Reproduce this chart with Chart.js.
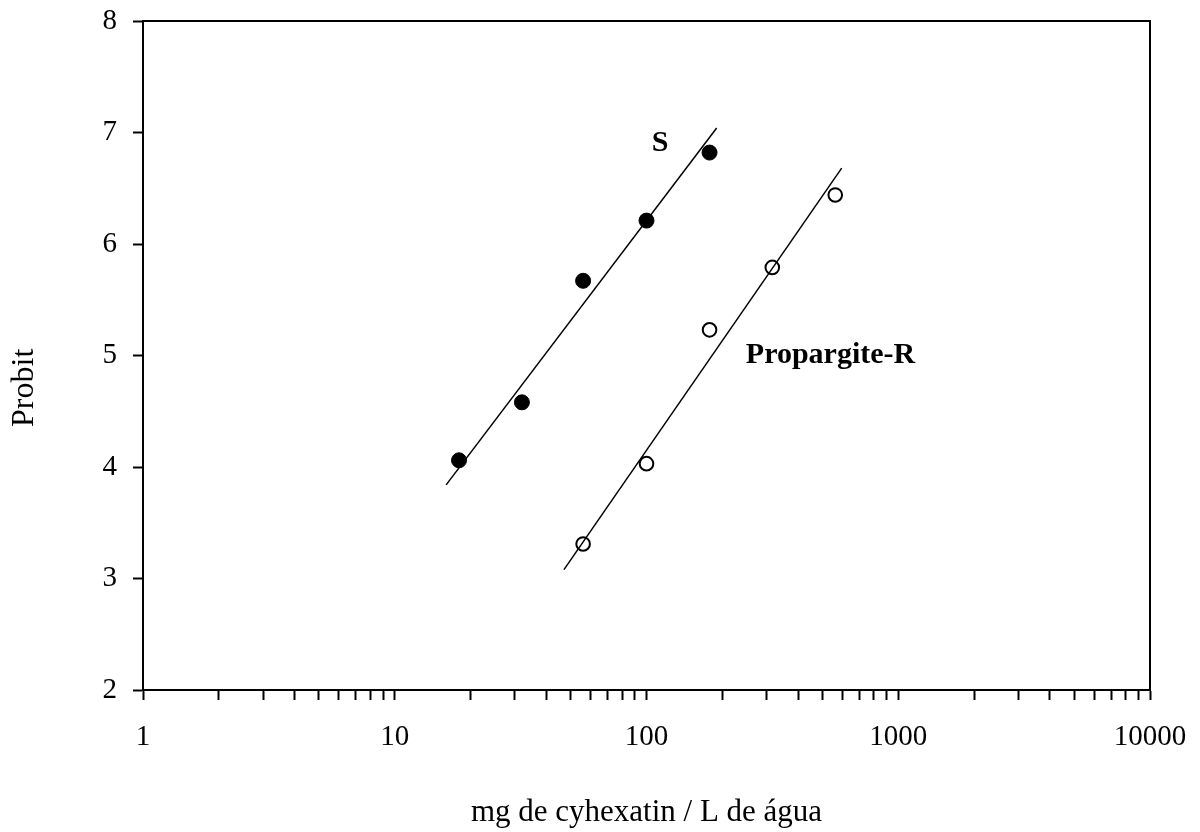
<!DOCTYPE html>
<html lang="pt">
<head>
    <meta charset="UTF-8">
    <title>Probit - cyhexatin</title>
    <script src="https://cdn.jsdelivr.net/npm/chart.js"></script>
    <style>
        body { margin: 0; background: #fff; }
    </style>
</head>
<body>
    <canvas id="probitChart" width="1200" height="832"></canvas>
    <script>
        // doses (mg/L) and probits
        const doseS = [18, 32, 56, 100, 178];
        const probitS = [4.06, 4.58, 5.67, 6.21, 6.82];
        const doseR = [56, 100, 178, 316, 562];
        const probitR = [3.31, 4.03, 5.23, 5.79, 6.44];

        // fitted regression lines (end points)
        const fitDoseS = [16, 190];
        const fitProbitS = [3.84, 7.04];
        const fitDoseR = [47, 596];
        const fitProbitR = [3.08, 6.68];

        const yTicks = [2, 3, 4, 5, 6, 7, 8];
        const labelText = ['S', 'Propargite-R'];
        const labelDose = [105, 248];
        const labelProbit = [6.9, 5.0];

        const serif = "'Liberation Serif', 'Times New Roman', serif";

        function toPoints(xs, ys) {
            return xs.map((x, i) => ({ x: x, y: ys[i] }));
        }

        function isDecade(v) {
            const l = Math.log10(v);
            return Math.abs(l - Math.round(l)) < 1e-9;
        }

        const frameAndLabels = {
            id: 'frameAndLabels',
            afterDraw: (chart) => {
                const ctx = chart.ctx;
                const a = chart.chartArea;
                ctx.save();
                ctx.strokeStyle = '#000';
                ctx.lineWidth = 2;
                ctx.beginPath();
                ctx.moveTo(a.left, a.top);
                ctx.lineTo(a.right, a.top);
                ctx.lineTo(a.right, a.bottom);
                ctx.stroke();

                ctx.fillStyle = '#000';
                ctx.font = 'bold 30px ' + serif;
                ctx.textAlign = 'left';
                ctx.textBaseline = 'middle';
                labelText.forEach((t, i) => {
                    const px = chart.scales.x.getPixelForValue(labelDose[i]);
                    const py = chart.scales.y.getPixelForValue(labelProbit[i]);
                    ctx.fillText(t, px, py);
                });

                // y axis title, sits a bit below the middle like the original
                ctx.font = '32px ' + serif;
                ctx.textAlign = 'center';
                ctx.translate(25, chart.scales.y.getPixelForValue(4.71));
                ctx.rotate(-Math.PI / 2);
                ctx.fillText('Probit', 0, 0);
                ctx.restore();
            }
        };

        const ctx = document.getElementById('probitChart').getContext('2d');
        new Chart(ctx, {
            type: 'scatter',
            data: {
                datasets: [
                    {
                        label: 'S fit',
                        type: 'line',
                        data: toPoints(fitDoseS, fitProbitS),
                        borderColor: '#000',
                        borderWidth: 1.5,
                        pointRadius: 0,
                        fill: false
                    },
                    {
                        label: 'Propargite-R fit',
                        type: 'line',
                        data: toPoints(fitDoseR, fitProbitR),
                        borderColor: '#000',
                        borderWidth: 1.5,
                        pointRadius: 0,
                        fill: false
                    },
                    {
                        label: 'S',
                        data: toPoints(doseS, probitS),
                        pointRadius: 7.5,
                        pointBackgroundColor: '#000',
                        pointBorderColor: '#000',
                        pointBorderWidth: 1
                    },
                    {
                        label: 'Propargite-R',
                        data: toPoints(doseR, probitR),
                        pointRadius: 6.8,
                        pointBackgroundColor: '#fff',
                        pointBorderColor: '#000',
                        pointBorderWidth: 2
                    }
                ]
            },
            options: {
                responsive: false,
                animation: false,
                layout: { padding: { top: 21, right: 50, left: 0, bottom: 0 } },
                plugins: {
                    legend: { display: false },
                    tooltip: { enabled: false }
                },
                scales: {
                    x: {
                        type: 'logarithmic',
                        min: 1,
                        max: 10000,
                        afterBuildTicks: (scale) => {
                            const t = [];
                            for (let d = 1; d < 10000; d *= 10) {
                                for (let m = 1; m < 10; m++) t.push({ value: m * d });
                            }
                            t.push({ value: 10000 });
                            scale.ticks = t;
                        },
                        afterFit: (scale) => {
                            scale.height = 142;
                            scale.paddingLeft = 0;
                            scale.paddingRight = 0;
                        },
                        border: { display: true, color: '#000', width: 2 },
                        grid: {
                            drawOnChartArea: false,
                            tickLength: 10,
                            tickColor: '#000',
                            tickWidth: 2
                        },
                        ticks: {
                            autoSkip: false,
                            maxRotation: 0,
                            padding: 20,
                            color: '#000',
                            font: { family: serif, size: 29 },
                            callback: (v) => isDecade(v) ? String(v) : ''
                        },
                        title: {
                            display: true,
                            text: 'mg de cyhexatin / L de água',
                            color: '#000',
                            font: { family: serif, size: 31 },
                            padding: { top: 0, bottom: 1 }
                        }
                    },
                    y: {
                        min: 2,
                        max: 8,
                        afterBuildTicks: (scale) => {
                            scale.ticks = yTicks.map(v => ({ value: v }));
                        },
                        afterFit: (scale) => {
                            scale.width = 143;
                            scale.paddingTop = 0;
                            scale.paddingBottom = 0;
                        },
                        border: { display: true, color: '#000', width: 2 },
                        grid: {
                            drawOnChartArea: false,
                            tickLength: 10,
                            tickColor: '#000',
                            tickWidth: 2
                        },
                        ticks: {
                            padding: 16,
                            color: '#000',
                            font: { family: serif, size: 29 }
                        }
                    }
                }
            },
            plugins: [frameAndLabels]
        });
    </script>
</body>
</html>
